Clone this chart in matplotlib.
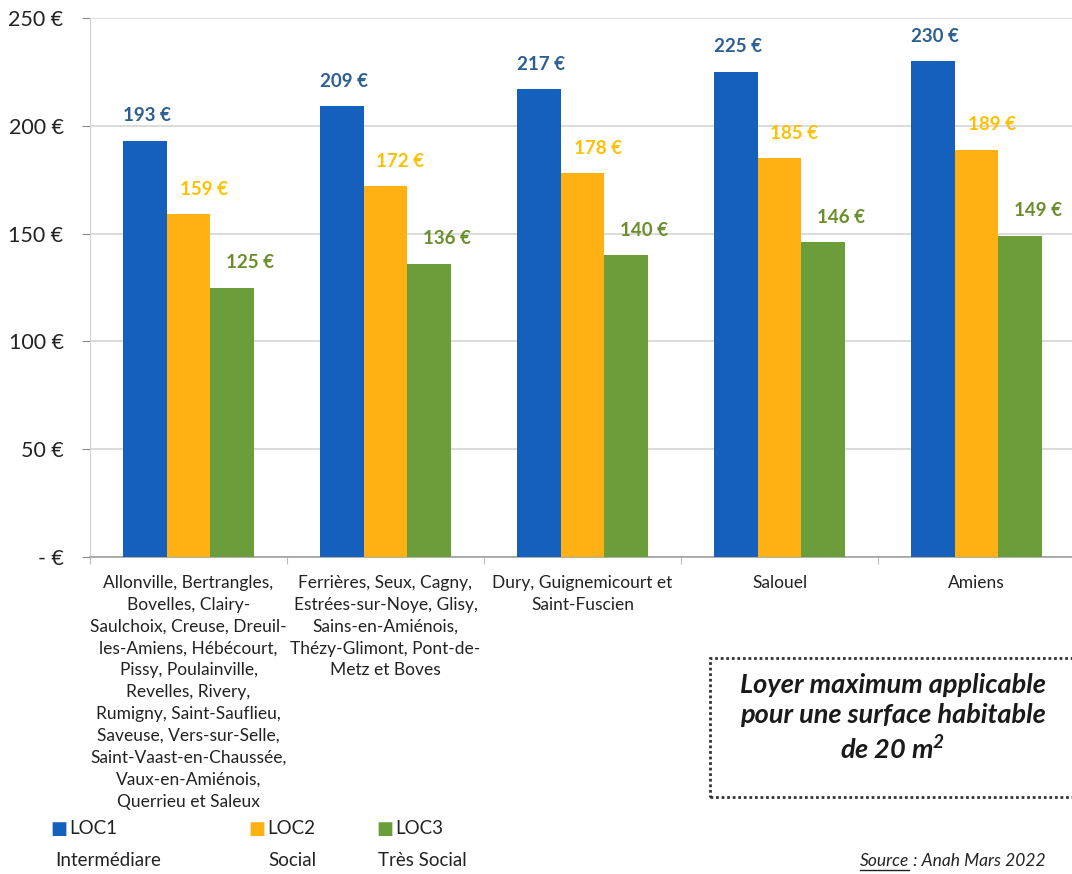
import numpy as np
import matplotlib.pyplot as plt
from matplotlib.patches import Rectangle

plt.rcParams['font.family'] = ['Lato', 'DejaVu Sans']

communes = [
    "Allonville, Bertrangles,\nBovelles, Clairy-\nSaulchoix, Creuse, Dreuil-\nles-Amiens, Hébécourt,\n"
    "Pissy, Poulainville,\nRevelles, Rivery,\nRumigny, Saint-Sauflieu,\nSaveuse, Vers-sur-Selle,\n"
    "Saint-Vaast-en-Chaussée,\nVaux-en-Amiénois,\nQuerrieu et Saleux",
    "Ferrières, Seux, Cagny,\nEstrées-sur-Noye, Glisy,\nSains-en-Amiénois,\nThézy-Glimont, Pont-de-\nMetz et Boves",
    "Dury, Guignemicourt et\nSaint-Fuscien",
    "Salouel",
    "Amiens",
]
loc1 = [193, 209, 217, 225, 230]
loc2 = [159, 172, 178, 185, 189]
loc3 = [125, 136, 140, 146, 149]

series_names = ["LOC1", "LOC2", "LOC3"]
series_sub = ["Intermédiare", "Social", "Très Social"]
bar_colors = ["#1560BD", "#FFB114", "#6B9E3A"]
label_colors = ["#2A5F93", "#FFC000", "#6A8F2A"]
label_dx = [2, 15, 18]  # pixels

W, H = 1072, 874
fig = plt.figure(figsize=(W / 100, H / 100), dpi=100)
ax = fig.add_axes([90 / W, 1 - 557 / H, 985 / W, 539 / H])

x = np.arange(len(communes))
w = 0.22
for k, vals in enumerate([loc1, loc2, loc3]):
    pos = x + (k - 1) * w
    bars = ax.bar(pos, vals, w, color=bar_colors[k], zorder=3)
    for b, v in zip(bars, vals):
        ax.annotate(f"{v} €", (b.get_x() + b.get_width() / 2, v),
                    xytext=(label_dx[k] * 0.72, 18), textcoords="offset points",
                    ha="center", va="center", fontsize=13.5, fontweight="bold",
                    color=label_colors[k])

ax.set_xlim(-0.5, 4.5)
ax.set_ylim(0, 250)
ax.set_yticks(np.arange(0, 251, 50))
ax.set_yticklabels(["- €", "50 €", "100 €", "150 €", "200 €", "250 €"], fontsize=15.5, color="#222222")
ax.yaxis.grid(True, color="#d4d4d4", lw=1.2, zorder=0)
ax.tick_params(axis="y", length=6, color="#888888", pad=13)

ax.set_xticks(np.arange(-0.5, 5, 1), minor=False)
ax.set_xticklabels([])
ax.tick_params(axis="x", length=5, color="#bbbbbb")
ax.set_xticks(x, minor=True)
ax.set_xticklabels(communes, minor=True, fontsize=12.5, linespacing=1.45, va="top", color="#222222")
ax.tick_params(axis="x", which="minor", length=0, pad=13)

for s in ["top", "right"]:
    ax.spines[s].set_visible(False)
ax.spines["left"].set_color("#d0d0d0")
ax.spines["bottom"].set_color("#a0a0a0")
ax.spines["bottom"].set_linewidth(1.2)

# legend drawn by hand: square, series name, then the second line
leg_x = [52, 250, 378]
sub_dx = [3, 18, 0]
for k in range(3):
    fx = leg_x[k] / W
    fig.text(fx - 2 / W, 1 - 829 / H, "■", color=bar_colors[k], fontsize=13, va="center", ha="left")
    fig.text(fx + 17 / W, 1 - 829 / H, series_names[k], fontsize=13.5, va="center", ha="left",
             color="#222222")
    fig.text(fx + sub_dx[k] / W, 1 - 860 / H, series_sub[k], fontsize=13.5,
             va="center", ha="left", color="#222222")

# dotted note box
box = Rectangle((710 / W, 1 - 797 / H), 370 / W, 139 / H, transform=fig.transFigure,
                fill=False, ls=(0, (1, 1)), lw=2, ec="#333333")
fig.add_artist(box)
fig.text(893 / W, 1 - 718 / H,
         "Loyer maximum applicable\npour une surface habitable\nde 20 m$^\\mathregular{2}$",
         ha="center", va="center", fontsize=19.5, fontweight="bold", style="italic",
         linespacing=1.28, color="#1a1a1a")

# source line, "Source" underlined
src_a = fig.text(860 / W, 1 - 861 / H, "Source", ha="left", va="center",
                 fontsize=12.5, style="italic", color="#222222")
fig.canvas.draw()
bb = src_a.get_window_extent()
fig.text(bb.x1 / W, 1 - 861 / H, " : Anah Mars 2022", ha="left", va="center",
         fontsize=12.5, style="italic", color="#222222")
fig.add_artist(plt.Line2D([bb.x0 / W, bb.x1 / W], [(bb.y0 - 1) / H] * 2,
                          transform=fig.transFigure, color="#222222", lw=1))

fig.savefig("out.png", dpi=100)
